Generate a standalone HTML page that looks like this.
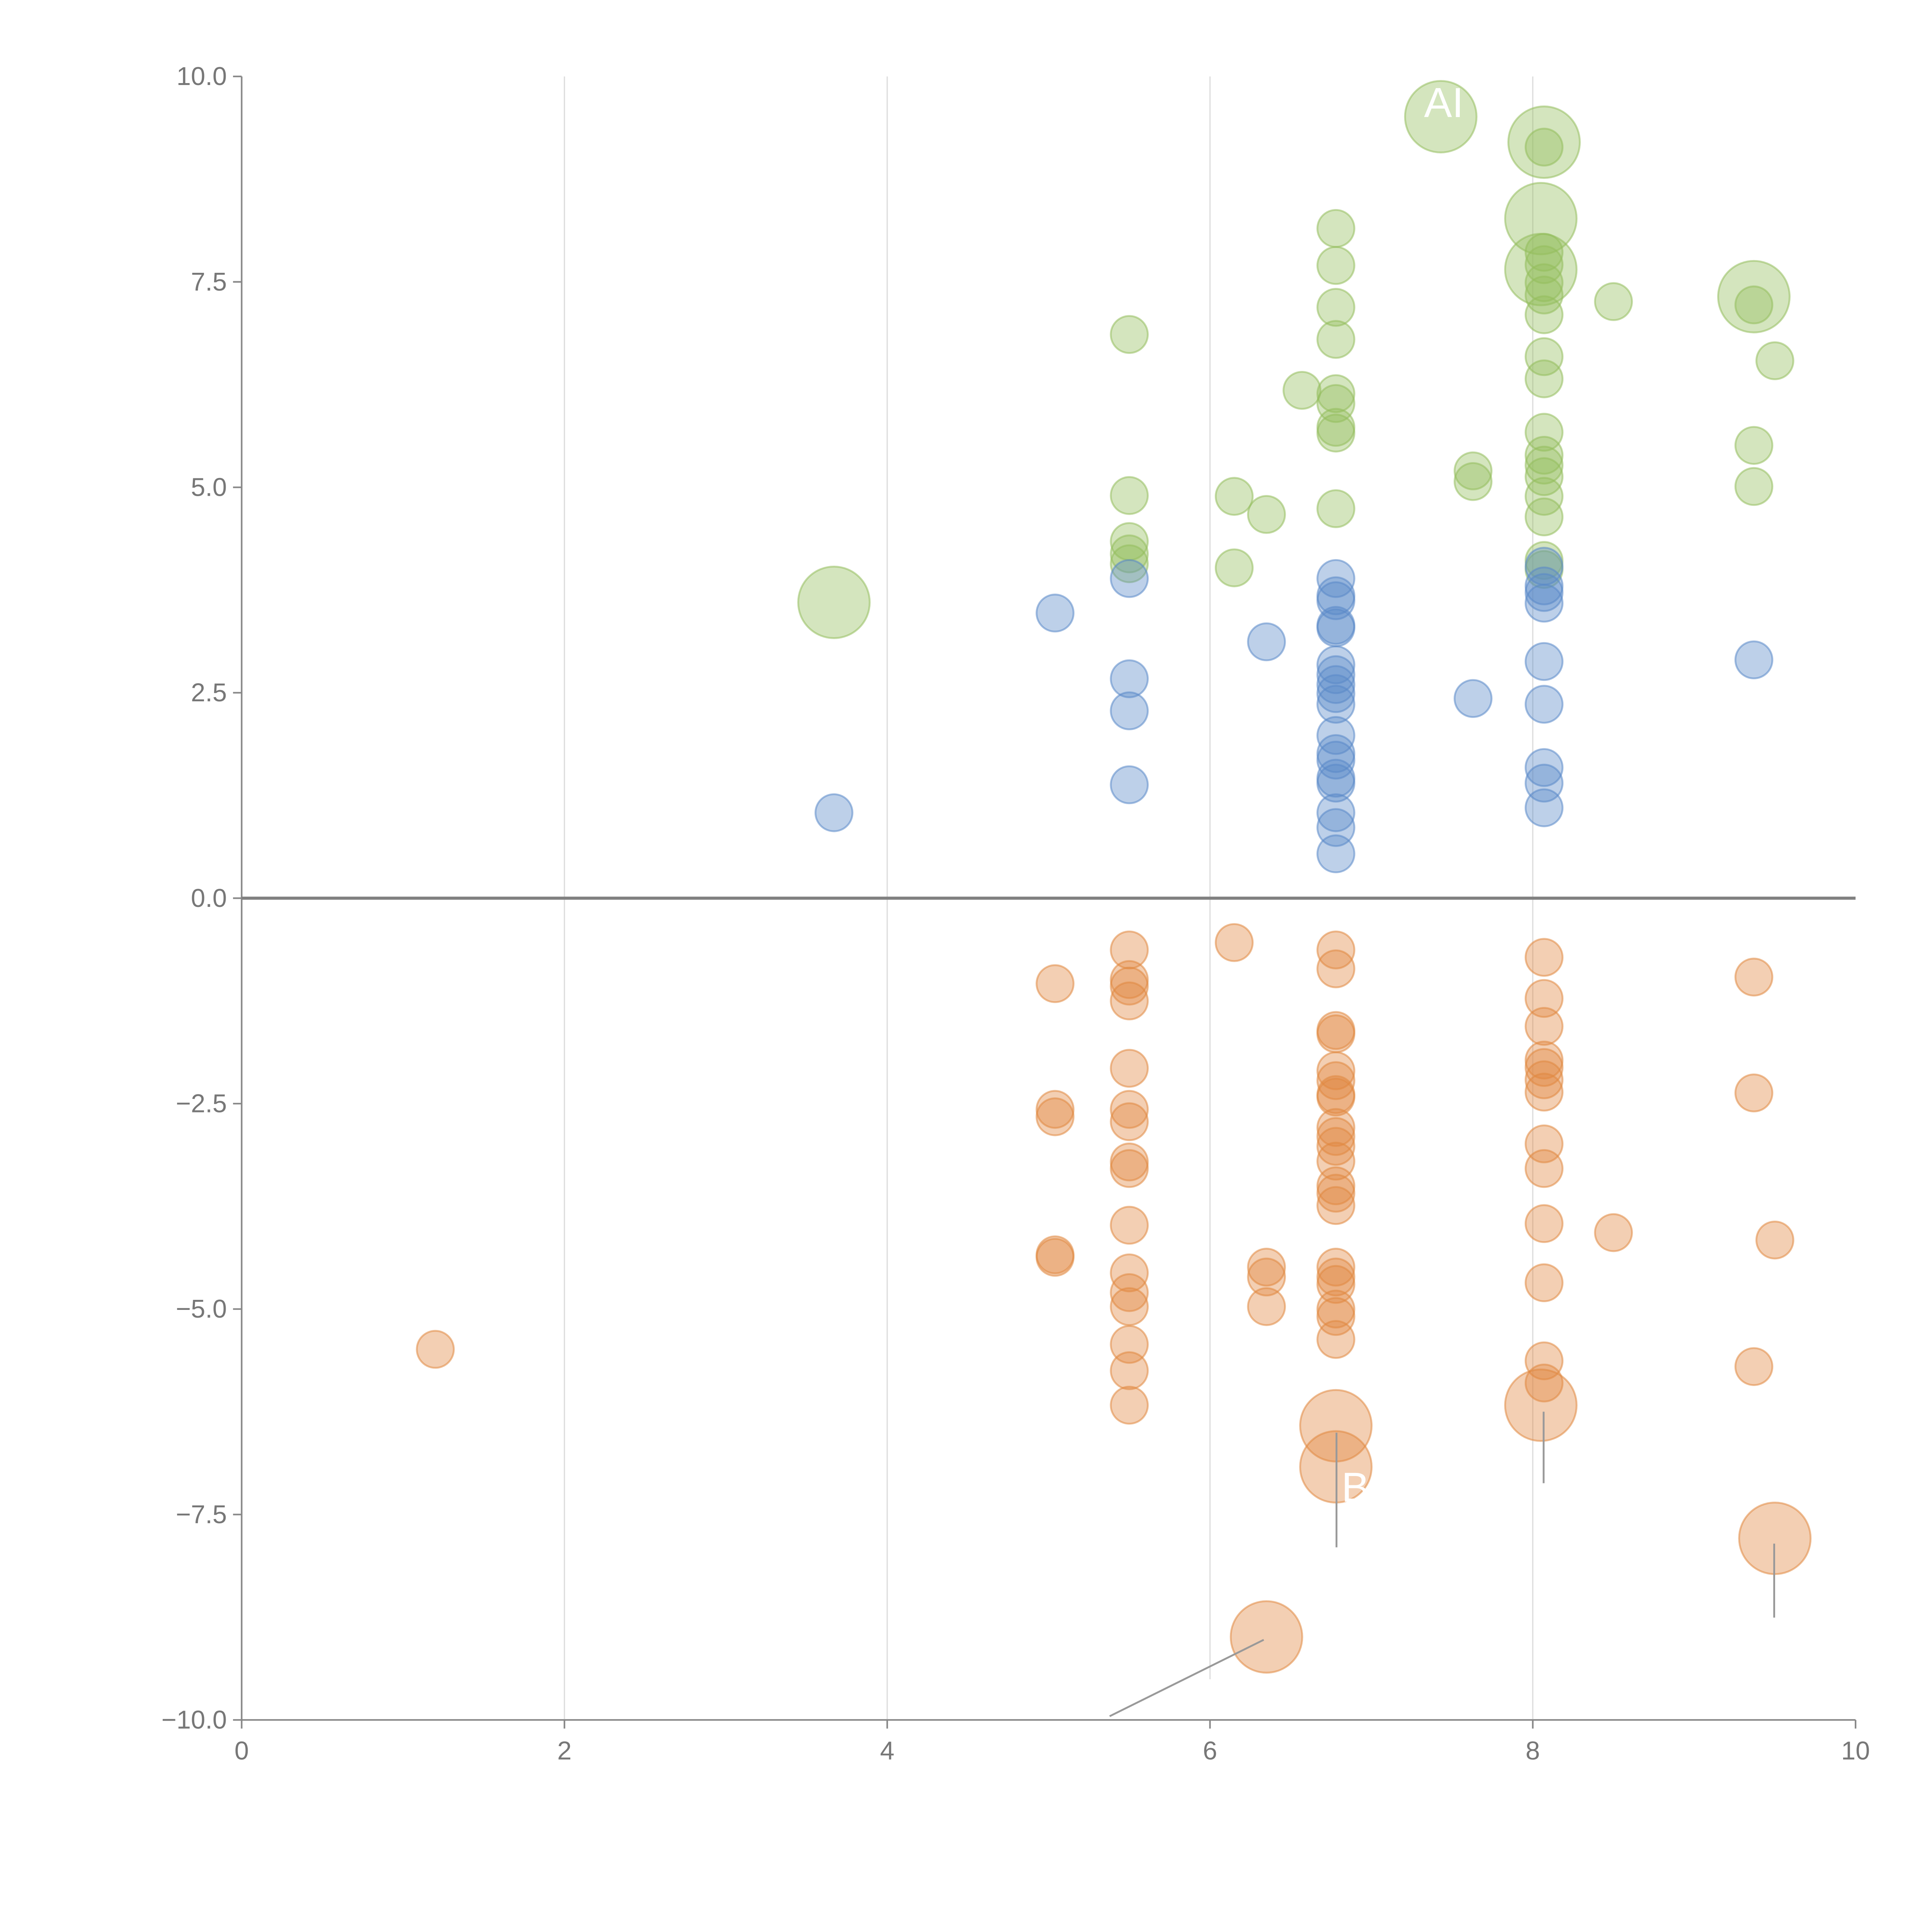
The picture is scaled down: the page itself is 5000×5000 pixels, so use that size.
<!DOCTYPE html>
<html><head><meta charset="utf-8"><style>
html,body{margin:0;padding:0;background:#fff;}
svg{display:block;}
text{font-family:"Liberation Sans",sans-serif;}
</style></head><body>
<svg id="chart" width="5000" height="5000" viewBox="0 0 1567 1567" xmlns="http://www.w3.org/2000/svg">
<g id="grid"></g>
<g id="axes"></g>
<g id="marks"></g>
<g id="annot"></g>
</svg>
<script>
const xTicks=[0,2,4,6,8,10];
const yTicks=[10,7.5,5,2.5,0,-2.5,-5,-7.5,-10];
const yTickLabels=["10.0","7.5","5.0","2.5","0.0","\u22122.5","\u22125.0","\u22127.5","\u221210.0"];

const greenX=[5.5,5.5,5.5,5.5,5.5,6.15,6.15,6.35,6.57,6.78,6.78,6.78,6.78,6.78,6.78,6.78,6.78,6.78,7.63,7.63,8.07,8.07,8.07,8.07,8.07,8.07,8.07,8.07,8.07,8.07,8.07,8.07,8.07,8.07,8.07,8.07,8.5,9.37,9.37,9.37,9.5,3.67,7.43,8.07,8.05,8.05,9.37];
const greenY=[6.86,4.9,4.34,4.19,4.07,4.89,4.02,4.67,6.18,8.15,7.7,7.19,6.8,6.14,6.02,5.73,5.66,4.74,5.2,5.07,9.14,7.86,7.71,7.49,7.34,7.1,6.59,6.32,5.67,5.39,5.27,5.13,4.89,4.64,4.11,4.0,7.26,7.22,5.51,5.01,6.54,3.6,9.51,9.2,8.27,7.65,7.32];
const greenS=[1,1,1,1,1,1,1,1,1,1,1,1,1,1,1,1,1,1,1,1,1,1,1,1,1,1,1,1,1,1,1,1,1,1,1,1,1,1,1,1,1,2,2,2,2,2,2];

const blueX=[3.67,5.04,5.5,5.5,5.5,5.5,6.35,6.78,6.78,6.78,6.78,6.78,6.78,6.78,6.78,6.78,6.78,6.78,6.78,6.78,6.78,6.78,6.78,6.78,6.78,7.63,8.07,8.07,8.07,8.07,8.07,8.07,8.07,8.07,8.07,9.37];
const blueY=[1.04,3.47,3.89,2.67,2.28,1.38,3.12,3.89,3.68,3.62,3.32,3.29,2.84,2.72,2.6,2.49,2.36,1.98,1.76,1.68,1.46,1.4,1.04,0.86,0.54,2.43,4.04,3.8,3.72,3.59,2.88,2.36,1.59,1.4,1.1,2.9];

const orangeX=[1.2,5.04,5.04,5.04,5.04,5.04,5.5,5.5,5.5,5.5,5.5,5.5,5.5,5.5,5.5,5.5,5.5,5.5,5.5,5.5,5.5,5.5,6.15,6.35,6.35,6.35,6.78,6.78,6.78,6.78,6.78,6.78,6.78,6.78,6.78,6.78,6.78,6.78,6.78,6.78,6.78,6.78,6.78,6.78,6.78,6.78,6.78,8.07,8.07,8.07,8.07,8.07,8.07,8.07,8.07,8.07,8.07,8.07,8.07,8.07,8.5,9.37,9.37,9.37,9.5,6.78,6.78,8.05,9.5,6.35];
const orangeY=[-5.49,-1.04,-2.57,-2.66,-4.34,-4.37,-0.63,-0.99,-1.07,-1.25,-2.07,-2.57,-2.72,-3.21,-3.29,-3.98,-4.56,-4.8,-4.97,-5.43,-5.75,-6.17,-0.54,-4.49,-4.61,-4.97,-0.63,-0.86,-1.61,-1.65,-2.1,-2.22,-2.39,-2.42,-2.79,-2.9,-3.02,-3.2,-3.5,-3.59,-3.74,-4.49,-4.61,-4.7,-5.0,-5.09,-5.37,-0.72,-1.22,-1.56,-1.97,-2.06,-2.21,-2.36,-2.99,-3.29,-3.96,-4.68,-5.63,-5.9,-4.07,-0.96,-2.37,-5.7,-4.16,-6.42,-6.92,-6.17,-7.79,-8.99];
const orangeS=[1,1,1,1,1,1,1,1,1,1,1,1,1,1,1,1,1,1,1,1,1,1,1,1,1,1,1,1,1,1,1,1,1,1,1,1,1,1,1,1,1,1,1,1,1,1,1,1,1,1,1,1,1,1,1,1,1,1,1,1,1,1,1,1,1,2,2,2,2,2];

const X0=196,X1=1505,Y0=1395,Y1=62;
const sx=v=>X0+(v-0)/10*(X1-X0);
const sy=v=>Y0-(v+10)/20*(Y0-Y1);
const NS="http://www.w3.org/2000/svg";
function mk(tag,parent,attrs){const e=document.createElementNS(NS,tag);for(const k in attrs)e.setAttribute(k,attrs[k]);parent.appendChild(e);return e;}
const grid=document.getElementById('grid'),axes=document.getElementById('axes'),marks=document.getElementById('marks'),annot=document.getElementById('annot');

[2,4,6,8].forEach(v=>{const l=mk('line',grid,{x1:sx(v),x2:sx(v),y1:Y1,y2:v===6?1362:Y0,stroke:'#dddddd','stroke-width':1});

});

let a=mk('line',axes,{x1:X0,x2:X0,y1:Y1,y2:Y0,stroke:'#888','stroke-width':1.3});


a=mk('line',axes,{x1:X0,x2:X1,y1:Y0,y2:Y0,stroke:'#888','stroke-width':1.3});


a=mk('line',axes,{x1:X0,x2:X1,y1:sy(0),y2:sy(0),stroke:'#808080','stroke-width':2.5});



xTicks.forEach(v=>{mk('line',axes,{x1:sx(v),x2:sx(v),y1:Y0,y2:Y0+7,stroke:'#888','stroke-width':1.3});
const t=mk('text',axes,{x:sx(v),y:Y0+32,'text-anchor':'middle','font-size':21,fill:'#777'});t.textContent=v;

});
yTicks.forEach((v,i)=>{mk('line',axes,{x1:X0-7,x2:X0,y1:sy(v),y2:sy(v),stroke:'#888','stroke-width':1.3});
const t=mk('text',axes,{x:X0-12,y:sy(v)+7,'text-anchor':'end','font-size':21,fill:'#777'});t.textContent=yTickLabels[i];

});

function series(xs,ys,ss,color,name){xs.forEach((x,i)=>{const r=(ss&&ss[i]===2)?29:15;
const c=mk('circle',marks,{cx:sx(x),cy:sy(ys[i]),r:r,fill:color,'fill-opacity':0.4,stroke:color,'stroke-opacity':0.55,'stroke-width':1.5});

});}
series(greenX,greenY,greenS,'#93bd5c','green-bubble');
series(blueX,blueY,null,'#5a89c8','blue-bubble');
series(orangeX,orangeY,orangeS,'#e08840','orange-bubble');

const leaders=[[1025,1330,900,1392],[1084,1162,1084,1255],[1252,1145,1252,1203],[1439,1252,1439,1312]];
leaders.forEach(p=>{const l=mk('line',annot,{x1:p[0],y1:p[1],x2:p[2],y2:p[3],stroke:'#999','stroke-width':1.5});

});
[[1155,95,'AI'],[1088,1218,'B']].forEach(p=>{const t=mk('text',annot,{x:p[0],y:p[1],'font-size':34,fill:'#fff'});t.textContent=p[2];

});
</script>
</body></html>
